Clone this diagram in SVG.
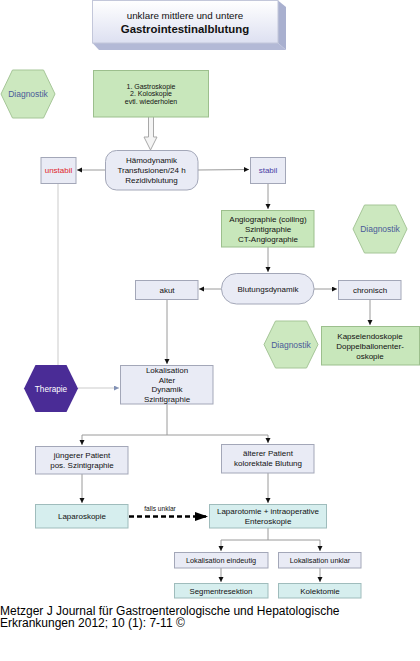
<svg xmlns="http://www.w3.org/2000/svg" width="420" height="661" viewBox="0 0 420 661">
<style>
text{font-family:"Liberation Sans",Arial,sans-serif;fill:#111;text-anchor:middle;font-size:8px}
.lav{fill:#e9ebf5;stroke:#a3a7b8;stroke-width:1}
.grn{fill:#c8e7bb;stroke:#9cbf8d;stroke-width:1}
.cyn{fill:#d6eeee;stroke:#9fbcbc;stroke-width:1}
.hexg{fill:#cce8bf;stroke:#a6c698;stroke-width:1}
.dg{fill:#4b5b99;font-size:8.5px}
.sm{font-size:7px}
.ln{fill:none;stroke:#9a9a9a;stroke-width:1}
.lt{fill:none;stroke:#dcdcdc;stroke-width:1.5}
.cap{font-size:12px;text-anchor:start;fill:#000}
</style>
<defs>
<linearGradient id="tg" x1="0" y1="0" x2="0" y2="1">
<stop offset="0" stop-color="#ffffff"/>
<stop offset="1" stop-color="#dde0f1"/>
</linearGradient>
<marker id="a" markerUnits="userSpaceOnUse" markerWidth="6" markerHeight="6" refX="5" refY="2.5" orient="auto">
<path d="M0,0 L5,2.5 L0,5 Z" fill="#111"/>
</marker>
<marker id="ab" markerUnits="userSpaceOnUse" markerWidth="6" markerHeight="6" refX="5" refY="2.5" orient="auto">
<path d="M0,0 L5,2.5 L0,5 Z" fill="#8090b4"/>
</marker>
<marker id="big" markerUnits="userSpaceOnUse" markerWidth="14" markerHeight="10" refX="13" refY="4.5" orient="auto">
<path d="M0,0 L13,4.5 L0,9 Z" fill="#000"/>
</marker>
</defs>

<g id="connectors">
<path class="ln" d="M105,170 H77" marker-end="url(#a)"/>
<path class="ln" d="M198,170 L249,169.5" marker-end="url(#a)"/>
<path class="lt" d="M58,183 V365"/>
<path class="ln" d="M268,183 V209" marker-end="url(#a)"/>
<path class="ln" d="M268,247 V272" marker-end="url(#a)"/>
<path class="ln" d="M221,289 H199" marker-end="url(#a)"/>
<path class="ln" d="M314,289 H337" marker-end="url(#a)"/>
<path class="ln" d="M370,299 V325" marker-end="url(#a)"/>
<path class="ln" d="M167,299 V364" marker-end="url(#a)"/>
<path class="lt" d="M78,388 H119" marker-end="url(#ab)"/>
<path class="ln" d="M167,404 V435 M82,435 H268"/>
<path class="ln" d="M82,435 V445" marker-end="url(#a)"/>
<path class="ln" d="M268,435 V443" marker-end="url(#a)"/>
<path class="ln" d="M82,474 V503" marker-end="url(#a)"/>
<path class="ln" d="M268,473 V503" marker-end="url(#a)"/>
<path d="M129,516.5 H208" fill="none" stroke="#000" stroke-width="2.5" stroke-dasharray="5,3" marker-end="url(#big)"/>
<text x="160" y="510.5" style="font-size:6.6px">falls unklar</text>
<path class="ln" d="M268,528 V540 M221,540 H320"/>
<path class="ln" d="M221,540 V551" marker-end="url(#a)"/>
<path class="ln" d="M320,540 V551" marker-end="url(#a)"/>
<path class="ln" d="M221,568 V582" marker-end="url(#a)"/>
<path class="ln" d="M320,568 V582" marker-end="url(#a)"/>
<path d="M148.5,117 V137 H144 L150.5,150 L157,137 H153.5 V117" fill="#f4f4f4" stroke="#a8a8a8" stroke-width="1"/>
</g>

<g id="title">
<polygon points="278,0.5 286,7 286,50 278,43" fill="#a9b0cf"/>
<polygon points="92.5,43 278,43 286,50 99,50" fill="#b3b9d6"/>
<rect x="92.5" y="0.5" width="185.5" height="42.5" fill="url(#tg)" stroke="#c3c7da"/>
<text x="185" y="19" style="font-size:9.8px">unklare mittlere und untere</text>
<text x="185" y="32.5" style="font-size:11.4px;font-weight:bold">Gastrointestinalblutung</text>
</g>

<g id="diag1">
<polygon class="hexg" points="1,94 12.5,70 43.5,70 55,94 43.5,118 12.5,118"/>
<text class="dg" x="28" y="97">Diagnostik</text>
</g>

<g id="endoskopie">
<rect class="grn" x="93.5" y="70.5" width="115" height="46.5"/>
<text class="sm" x="151" y="88.5">1. Gastroskopie</text>
<text class="sm" x="151" y="96">2. Koloskopie</text>
<text class="sm" x="151" y="103.5">evtl. wiederholen</text>
</g>

<g id="haemo">
<rect class="lav" x="105.5" y="150.5" width="92.5" height="39.5" rx="11"/>
<text x="151.5" y="163">Hämodynamik</text>
<text x="151.5" y="173">Transfusionen/24 h</text>
<text x="151.5" y="183">Rezidivblutung</text>
</g>

<g id="unstabil">
<rect class="lav" x="41" y="157.5" width="35" height="26"/>
<text x="58.5" y="173" style="fill:#e0262a">unstabil</text>
</g>

<g id="stabil">
<rect class="lav" x="250.5" y="157.5" width="35" height="26"/>
<text x="268" y="173" style="fill:#4a3fa6">stabil</text>
</g>

<g id="angio">
<rect class="grn" x="221.5" y="210.5" width="92.5" height="36.5"/>
<text x="268" y="222">Angiographie (coiling)</text>
<text x="268" y="232">Szintigraphie</text>
<text x="268" y="241.5">CT-Angiographie</text>
</g>

<g id="diag2">
<polygon class="hexg" points="353,229 364.5,205 395.5,205 407,229 395.5,253 364.5,253"/>
<text class="dg" x="380" y="232">Diagnostik</text>
</g>

<g id="blutungsdynamik">
<rect class="lav" x="221.5" y="273.5" width="92.5" height="30.5" rx="15"/>
<text x="268" y="291.5">Blutungsdynamik</text>
</g>

<g id="akut">
<rect class="lav" x="135.5" y="280.5" width="62.5" height="19"/>
<text x="167" y="293">akut</text>
</g>

<g id="chronisch">
<rect class="lav" x="338.5" y="280.5" width="62.5" height="19"/>
<text x="370" y="293">chronisch</text>
</g>

<g id="diag3">
<polygon class="hexg" points="264,344.5 275.5,321 306.5,321 318,344.5 306.5,368 275.5,368"/>
<text class="dg" x="291" y="347.5">Diagnostik</text>
</g>

<g id="kapsel">
<rect class="grn" x="321.5" y="326.5" width="98" height="38.5"/>
<text x="370" y="339">Kapselendoskopie</text>
<text x="370" y="349">Doppelballonenter-</text>
<text x="370" y="359">oskopie</text>
</g>

<g id="therapie">
<polygon points="24,388.5 35.5,365 66.5,365 78,388.5 66.5,412 35.5,412" fill="#4a2c96"/>
<text x="51" y="391.5" style="fill:#fff;font-size:8.2px">Therapie</text>
</g>

<g id="lokalisation">
<rect class="lav" x="120.5" y="365.5" width="92.5" height="38.5"/>
<text x="167" y="373">Lokalisation</text>
<text x="167" y="382.7">Alter</text>
<text x="167" y="392.4">Dynamik</text>
<text x="167" y="402">Szintigraphie</text>
</g>

<g id="juenger">
<rect class="lav" x="35.5" y="446.5" width="92.5" height="27.5"/>
<text x="82" y="458">jüngerer Patient</text>
<text x="82" y="467.5">pos. Szintigraphie</text>
</g>

<g id="aelter">
<rect class="lav" x="221.5" y="444.5" width="92.5" height="28.5"/>
<text x="268" y="456">älterer Patient</text>
<text x="268" y="466">kolorektale Blutung</text>
</g>

<g id="laparoskopie">
<rect class="cyn" x="35.5" y="504.5" width="92.5" height="23.5"/>
<text x="82" y="519">Laparoskopie</text>
</g>

<g id="laparotomie">
<rect class="cyn" x="209.5" y="504.5" width="117" height="23.5"/>
<text x="268" y="514">Laparotomie + intraoperative</text>
<text x="268" y="524">Enteroskopie</text>
</g>

<g id="lok-eindeutig">
<rect class="lav" x="174.5" y="552.5" width="93.5" height="15.5"/>
<text class="sm" x="221" y="562.5" style="font-size:7.3px">Lokalisation eindeutig</text>
</g>

<g id="lok-unklar">
<rect class="lav" x="278.5" y="552.5" width="82.5" height="15.5"/>
<text class="sm" x="320" y="562.5" style="font-size:7.3px">Lokalisation unklar</text>
</g>

<g id="segment">
<rect class="cyn" x="174.5" y="583.5" width="93.5" height="14.5"/>
<text x="221" y="594" style="font-size:7.8px">Segmentresektion</text>
</g>

<g id="kolektomie">
<rect class="cyn" x="278.5" y="583.5" width="82.5" height="14.5"/>
<text x="320" y="594" style="font-size:8px">Kolektomie</text>
</g>

<g id="caption">
<text class="cap" x="0" y="614.5">Metzger J Journal für Gastroenterologische und Hepatologische</text>
<text class="cap" x="0" y="627">Erkrankungen 2012; 10 (1): 7-11 ©</text>
</g>
</svg>
